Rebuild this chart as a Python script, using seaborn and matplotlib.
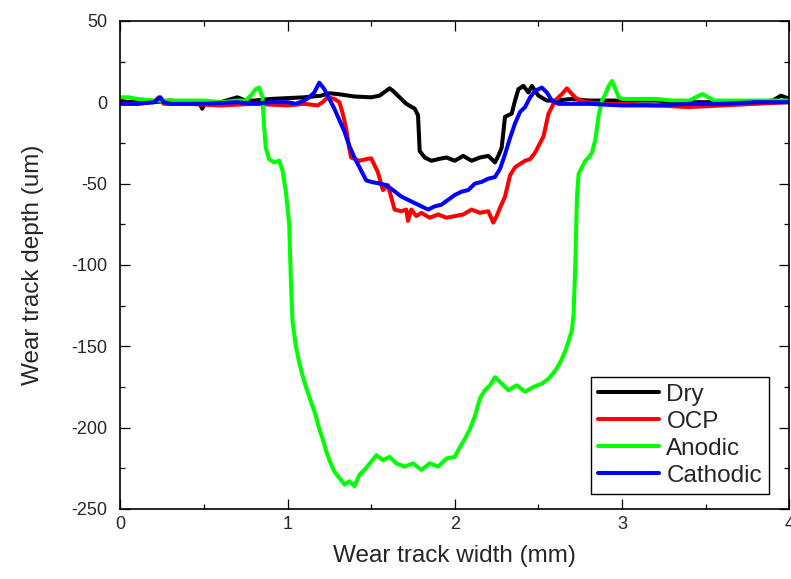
import pandas as pd
import numpy as np
import matplotlib
matplotlib.use("Agg")
import matplotlib.pyplot as plt
import seaborn as sns
from matplotlib.ticker import MultipleLocator

# profile data (x in mm, depth in um)
dry_x = [0, 0.05, 0.1, 0.2, 0.3, 0.4, 0.47, 0.49, 0.51, 0.6, 0.7, 0.75, 0.8, 0.9, 1.0, 1.1,
         1.2, 1.25, 1.3, 1.4, 1.5, 1.55, 1.59, 1.61, 1.63, 1.66, 1.71, 1.76, 1.78, 1.79,
         1.82, 1.86, 1.9, 1.95, 2.0, 2.05, 2.1, 2.15, 2.2, 2.24, 2.26, 2.28, 2.3, 2.34,
         2.36, 2.38, 2.41, 2.44, 2.46, 2.5, 2.55, 2.6, 2.7, 2.8, 2.9, 3.0, 3.2, 3.4, 3.6,
         3.8, 3.9, 3.95, 4.0]
dry_y = [1, 0, 1, 0, 1, 0, 0, -4, 0, 0, 3, 1, 1, 2, 2.5, 3,
         4, 5.5, 5, 3.5, 3, 4, 7, 8.5, 7, 4, -1, -4, -8, -30,
         -34, -36, -35, -34, -36, -33, -36, -34, -33, -37, -33, -28, -9, -7,
         1, 8, 10, 6, 10, 4, 1, 1, 2, 1, 1, 1, 1, 0, 0,
         0, 1, 4, 2]

ocp_x = [0, 0.1, 0.2, 0.23, 0.26, 0.4, 0.6, 0.8, 1.0, 1.1, 1.18, 1.21, 1.24, 1.28, 1.31,
         1.33, 1.35, 1.37, 1.38, 1.43, 1.47, 1.5, 1.54, 1.57, 1.6, 1.64, 1.68, 1.71, 1.72,
         1.74, 1.77, 1.8, 1.85, 1.9, 1.95, 2.0, 2.05, 2.1, 2.15, 2.2, 2.23, 2.25, 2.27, 2.3,
         2.33, 2.36, 2.39, 2.42, 2.45, 2.48, 2.51, 2.53, 2.56, 2.6, 2.64, 2.67, 2.7, 2.73,
         2.78, 2.9, 3.0, 3.2, 3.4, 3.6, 3.8, 4.0]
ocp_y = [-1, -1, 0, 3, -1, -1, -2, -1, -2, -1, -2, 0, 3, 2, 0,
         -7, -16, -29, -34, -36, -35, -34.5, -43, -54, -51, -66, -67, -66, -73,
         -66, -70, -68, -71, -69, -71, -70, -69, -66, -68, -67, -74, -70, -65, -58,
         -45, -40, -38, -36, -35, -31, -25, -21, -7, 1, 5, 8.5, 5, 2,
         0, -1, -1, -2, -3, -2, -1, 0]

anodic_x = [0, 0.05, 0.1, 0.2, 0.3, 0.4, 0.5, 0.6, 0.7, 0.75, 0.78, 0.81, 0.83, 0.85,
            0.86, 0.87, 0.89, 0.92, 0.95, 0.97, 0.99, 1.01, 1.02, 1.03, 1.05, 1.07, 1.09,
            1.11, 1.13, 1.15, 1.17, 1.19, 1.21, 1.23, 1.25, 1.28, 1.31, 1.34, 1.37, 1.4,
            1.43, 1.46, 1.5, 1.53, 1.57, 1.61, 1.65, 1.7, 1.75, 1.8, 1.85, 1.9, 1.95, 2.0,
            2.03, 2.06, 2.09, 2.12, 2.15, 2.18, 2.21, 2.24, 2.28, 2.32, 2.37, 2.42, 2.47,
            2.52, 2.56, 2.6, 2.63, 2.66, 2.68, 2.7, 2.71, 2.72, 2.73, 2.74, 2.76, 2.78,
            2.8, 2.82, 2.84, 2.86, 2.88, 2.9, 2.92, 2.94, 2.96, 2.98, 3.0, 3.1, 3.2, 3.3,
            3.4, 3.48, 3.55, 3.7, 3.85, 4.0]
anodic_y = [3, 3, 2, 1, 1, 1, 1, 0, 1, 1, 4, 8, 9, 3,
            -15, -28, -35, -37, -36, -42, -55, -75, -110, -135, -150, -160, -168,
            -175, -181, -187, -193, -201, -207, -214, -220, -227, -231, -235, -233, -236,
            -229, -226, -221, -217, -220, -218, -222, -224, -222, -226, -222, -224, -219, -218,
            -212, -207, -201, -193, -182, -177, -174, -169, -173, -177, -174, -178, -175,
            -173, -170, -165, -160, -153, -147, -140, -130, -100, -58, -44, -40, -36,
            -34, -31, -23, -8, 1, 5, 10, 13, 8, 3, 2, 2, 2, 1,
            1, 5, 1, 1, 1, 1]

cathodic_x = [0, 0.1, 0.2, 0.24, 0.26, 0.3, 0.5, 0.7, 0.8, 0.9, 1.0, 1.05, 1.1, 1.13, 1.16,
              1.19, 1.22, 1.25, 1.28, 1.31, 1.34, 1.37, 1.4, 1.43, 1.47, 1.5, 1.55, 1.59,
              1.63, 1.68, 1.72, 1.76, 1.8, 1.84, 1.88, 1.92, 1.96, 2.0, 2.04, 2.08, 2.12,
              2.16, 2.2, 2.24, 2.27, 2.3, 2.33, 2.36, 2.39, 2.42, 2.45, 2.48, 2.52, 2.55,
              2.58, 2.62, 2.7, 2.8, 3.0, 3.2, 3.4, 3.6, 3.8, 4.0]
cathodic_y = [-1, -1, 0, 3, 0, -1, -1, 0, -1, 0, 0, -1, 1, 3, 6,
              12, 8, 2, -4, -11, -18, -27, -34, -40, -48, -49, -50, -51,
              -54, -58, -60, -62, -64, -66, -64, -63, -60, -57, -55, -54, -50,
              -49, -47, -46, -41, -32, -22, -13, -6, -3, 3, 7, 9, 6,
              1, -1, -1, -1, -2, -2, -1, -1, 0, 0]

labels = ["Dry", "OCP", "Anodic", "Cathodic"]
colors = ["#000000", "#FF0000", "#00FF00", "#0000FF"]

df = pd.concat([
    pd.DataFrame({"x": dry_x, "y": dry_y, "Condition": "Dry"}),
    pd.DataFrame({"x": ocp_x, "y": ocp_y, "Condition": "OCP"}),
    pd.DataFrame({"x": anodic_x, "y": anodic_y, "Condition": "Anodic"}),
    pd.DataFrame({"x": cathodic_x, "y": cathodic_y, "Condition": "Cathodic"}),
], ignore_index=True)

sns.set_style("white")
plt.rcParams['font.family'] = ['Liberation Sans', 'DejaVu Sans']
plt.rcParams['axes.unicode_minus'] = False

fig = plt.figure(figsize=(7.91, 5.79), dpi=100)
ax = fig.add_axes([0.152, 0.121, 0.846, 0.843])

sns.lineplot(data=df, x="x", y="y", hue="Condition", hue_order=labels,
             palette=colors, estimator=None, sort=False, linewidth=2.9, ax=ax)

ax.set_xlim(0, 4)
ax.set_ylim(-250, 50)
ax.xaxis.set_major_locator(MultipleLocator(1))
ax.xaxis.set_minor_locator(MultipleLocator(0.5))
ax.yaxis.set_major_locator(MultipleLocator(50))
ax.yaxis.set_minor_locator(MultipleLocator(25))
ax.tick_params(which="both", direction="in", top=True, right=True,
               bottom=True, left=True, width=0.9, color="black")
ax.tick_params(which="major", length=7, labelsize=13)
ax.tick_params(which="minor", length=3.5)
ax.tick_params(axis="x", which="major", pad=5)
ax.tick_params(axis="y", which="major", pad=9)
for s in ax.spines.values():
    s.set_color("black")
    s.set_linewidth(1.2)

ax.set_xlabel("Wear track width (mm)", fontsize=17.5, labelpad=9)
ax.set_ylabel("Wear track depth (um)", fontsize=17.5, labelpad=20)

leg = ax.legend(loc="lower right", bbox_to_anchor=(0.970, 0.031), borderaxespad=0,
                fontsize=17.5, frameon=True, fancybox=False, edgecolor="black",
                handlelength=2.5, handletextpad=0.3, labelspacing=0.2,
                borderpad=0.3)
leg.get_frame().set_linewidth(1.0)
leg.get_frame().set_alpha(1)
for line in leg.get_lines():
    line.set_linewidth(2.9)

fig.savefig("out.png", dpi=100)
